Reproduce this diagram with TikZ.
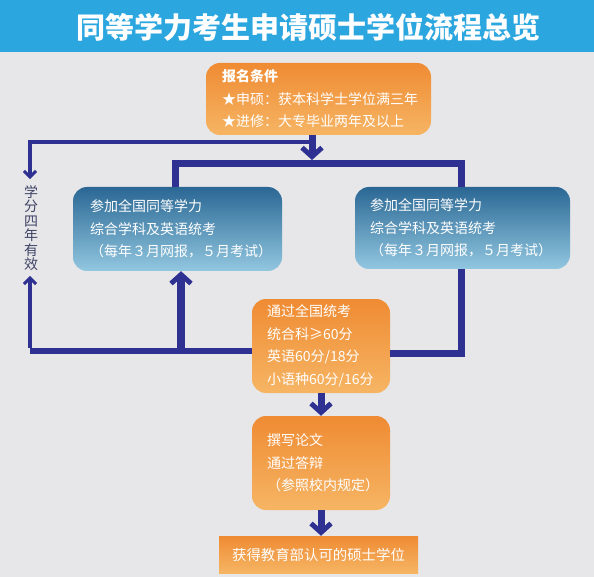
\documentclass[tikz,border=0pt]{standalone}
\usepackage{fontspec}
\usepackage{tikz}
\usetikzlibrary{arrows.meta}
\newfontfamily\cjk{Noto Sans CJK SC}

\definecolor{titleblue}{HTML}{2BA6DF}
\definecolor{bggray}{HTML}{E7E7E9}
\definecolor{orTop}{HTML}{EF8B33}
\definecolor{orBot}{HTML}{F6B564}
\definecolor{blTop}{HTML}{2A6794}
\definecolor{blBot}{HTML}{92C7E0}
\definecolor{navy}{HTML}{2E3191}
\definecolor{notegray}{HTML}{3F4466}

\begin{document}
\begin{tikzpicture}[
            x=1pt, y=-1pt,
            box/.style={rounded corners=14pt, text=white, align=left, inner ysep=0pt,
                font=\cjk\fontsize{14}{22.5}\selectfont},
            orangebox/.style={box, top color=orTop, bottom color=orBot},
            bluebox/.style={box, top color=blTop, bottom color=blBot},
            bigline/.style={draw=navy, line width=7pt, line join=miter},
            thinline/.style={draw=navy, line width=4pt, line join=miter},
            bigtip/.style={-{Straight Barb[length=9pt,width=20pt,line width=5pt]}},
            thintip/.style={-{Straight Barb[length=6pt,width=12pt,line width=3pt]}}
        ]
            \useasboundingbox (0,0) rectangle (594,577);
            \fill[bggray] (0,0) rectangle (594,577);
            \fill[titleblue] (0,0) rectangle (594,52);
            \node[text=white, font=\cjk\bfseries\fontsize{29}{32}\selectfont] (title) at (308,27) {同等学力考生申请硕士学位流程总览};

            % boxes
            \node[orangebox, inner xsep=16pt, text width=193pt, minimum height=72pt] (cond) at (318.5,99)
                {{\bfseries 报名条件}\\★申硕：获本科学士学位满三年\\★进修：大专毕业两年及以上};
            \node[bluebox, inner xsep=17pt, text width=175pt, minimum height=84pt] (examL) at (177.5,229)
                {参加全国同等学力\\综合学科及英语统考\\（每年３月网报，５月考试）};
            \node[bluebox, inner xsep=15pt, text width=185pt, minimum height=82pt] (examR) at (462.5,228)
                {参加全国同等学力\\综合学科及英语统考\\（每年３月网报，５月考试）};
            \node[orangebox, inner xsep=15pt, text width=108pt, minimum height=94pt] (pass) at (321,346)
                {通过全国统考\\统合科≥60分\\英语60分/18分\\小语种60分/16分};
            \node[orangebox, inner xsep=15pt, text width=108pt, minimum height=94pt] (thesis) at (321,463)
                {撰写论文\\通过答辩\\（参照校内规定）};
            \node[orangebox, rounded corners=0pt, align=center, inner xsep=10pt, text width=179pt, minimum height=37pt,
                font=\cjk\fontsize{14.4}{16}\selectfont] (degree) at (318.5,554.5) {获得教育部认可的硕士学位};
            \node[text=notegray, align=center, inner sep=0pt, font=\cjk\fontsize{14}{14.5}\selectfont] (note) at (31,228)
                {学\\分\\四\\年\\有\\效};

            % connectors
            \coordinate (top) at (312,160);
            \coordinate (barL) at (175,164);
            \coordinate (barR) at (461,164);
            \coordinate (loopA) at (312,142);
            \coordinate (loopB) at (30,142);
            \coordinate (lowL) at (30,351);
            \coordinate (upL) at (181,351);
            \coordinate (lowR) at (461,353);

            \draw[bigline] (examL.north -| barL) -- (barL) -- (barR) -- (examR.north -| barR);
            \draw[bigline, bigtip] (cond.south -| top) -- (top);
            \draw[thinline, thintip, shorten >=6pt] (loopA) -- (loopB) -- (note.north -| loopB);
            \draw[thinline, line width=6pt] (pass.west |- lowL) -- (lowL);
            \draw[thinline, thintip, shorten >=5pt] ([yshift=3pt]lowL) -- (note.south -| lowL);
            \draw[bigline, line width=8pt, bigtip] (upL) -- (examL.south -| upL);
            \draw[bigline] (pass.east |- lowR) -- (lowR) -- (examR.south -| lowR);
            \draw[bigline, bigtip] (pass.south) -- (thesis.north);
            \draw[bigline, bigtip] (thesis.south) -- (thesis.south |- degree.north);
\end{tikzpicture}
\end{document}
